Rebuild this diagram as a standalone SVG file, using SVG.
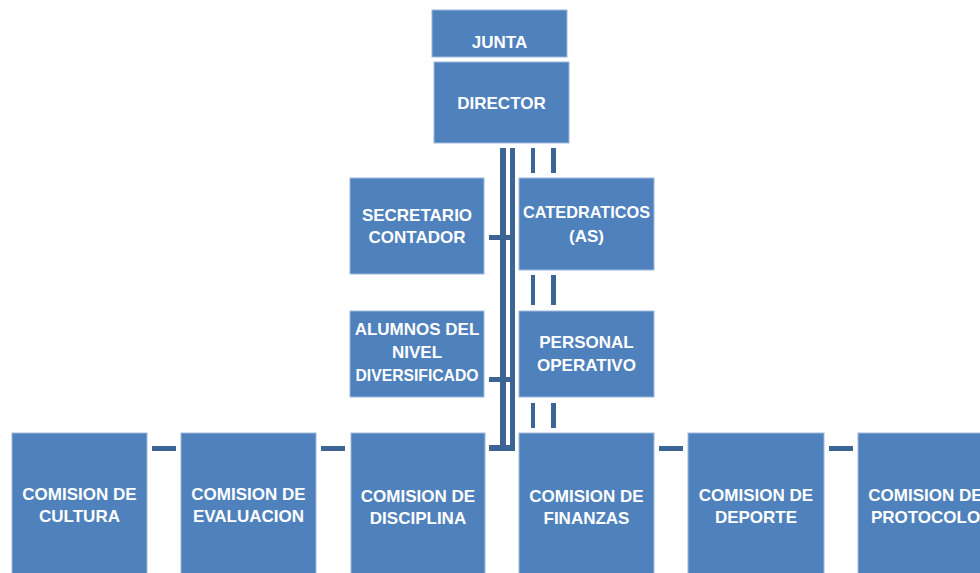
<svg xmlns="http://www.w3.org/2000/svg" width="980" height="573" viewBox="0 0 980 573">
<style>
.box{fill:#4F81BD;stroke:#9DB8DC;stroke-width:1}
.t{font-family:"Liberation Sans",Arial,sans-serif;font-size:17px;font-weight:bold;fill:#FFFFFF;text-anchor:middle}
.c{fill:#3C6596}
</style>
<rect width="980" height="573" fill="#FFFFFF"/>
<g id="connectors">
<rect class="c" x="500" y="148" width="6" height="303"/>
<rect class="c" x="510" y="148" width="5" height="303"/>
<rect class="c" x="489" y="235" width="23" height="5"/>
<rect class="c" x="489" y="377" width="23" height="5"/>
<rect class="c" x="489" y="445" width="23" height="6"/>
<rect class="c" x="531" y="148" width="4" height="25"/>
<rect class="c" x="551" y="148" width="5" height="25"/>
<rect class="c" x="531" y="275" width="4" height="30"/>
<rect class="c" x="551" y="275" width="5" height="30"/>
<rect class="c" x="531" y="403" width="4" height="25"/>
<rect class="c" x="551" y="403" width="5" height="25"/>
<rect class="c" x="152" y="446" width="24" height="5"/>
<rect class="c" x="321" y="446" width="24" height="5"/>
<rect class="c" x="659" y="446" width="24" height="5"/>
<rect class="c" x="829" y="446" width="24" height="5"/>
</g>
<g id="junta"><rect class="box" x="432" y="10" width="135" height="47"/><text class="t" x="499.5" y="48">JUNTA</text></g>
<g id="director"><rect class="box" x="434" y="62" width="135" height="81"/><text class="t" x="501.5" y="109">DIRECTOR</text></g>
<g id="secretario"><rect class="box" x="350" y="178" width="134" height="96"/><text class="t" x="417" y="221">SECRETARIO</text><text class="t" x="417" y="243">CONTADOR</text></g>
<g id="catedraticos"><rect class="box" x="519" y="178" width="135" height="92"/><text class="t" x="586.5" y="218" textLength="127" lengthAdjust="spacingAndGlyphs">CATEDRATICOS</text><text class="t" x="586.5" y="242">(AS)</text></g>
<g id="alumnos"><rect class="box" x="350" y="311" width="134" height="86"/><text class="t" x="417" y="335">ALUMNOS DEL</text><text class="t" x="417" y="358">NIVEL</text><text class="t" x="417" y="381" textLength="123" lengthAdjust="spacingAndGlyphs">DIVERSIFICADO</text></g>
<g id="personal"><rect class="box" x="519" y="311" width="135" height="86"/><text class="t" x="586.5" y="348">PERSONAL</text><text class="t" x="586.5" y="371">OPERATIVO</text></g>
<g id="cultura"><rect class="box" x="12" y="433" width="135" height="150"/><text class="t" x="79.5" y="500">COMISION DE</text><text class="t" x="79.5" y="522">CULTURA</text></g>
<g id="evaluacion"><rect class="box" x="181" y="433" width="135" height="150"/><text class="t" x="248.5" y="500">COMISION DE</text><text class="t" x="248.5" y="522">EVALUACION</text></g>
<g id="disciplina"><rect class="box" x="351" y="433" width="134" height="150"/><text class="t" x="418" y="502">COMISION DE</text><text class="t" x="418" y="524">DISCIPLINA</text></g>
<g id="finanzas"><rect class="box" x="519" y="433" width="135" height="150"/><text class="t" x="586.5" y="502">COMISION DE</text><text class="t" x="586.5" y="524">FINANZAS</text></g>
<g id="deporte"><rect class="box" x="688" y="433" width="136" height="150"/><text class="t" x="756" y="501">COMISION DE</text><text class="t" x="756" y="523">DEPORTE</text></g>
<g id="protocolo"><rect class="box" x="858" y="433" width="135" height="150"/><text class="t" x="925.5" y="501">COMISION DE</text><text class="t" x="925.5" y="523">PROTOCOLO</text></g>
</svg>
